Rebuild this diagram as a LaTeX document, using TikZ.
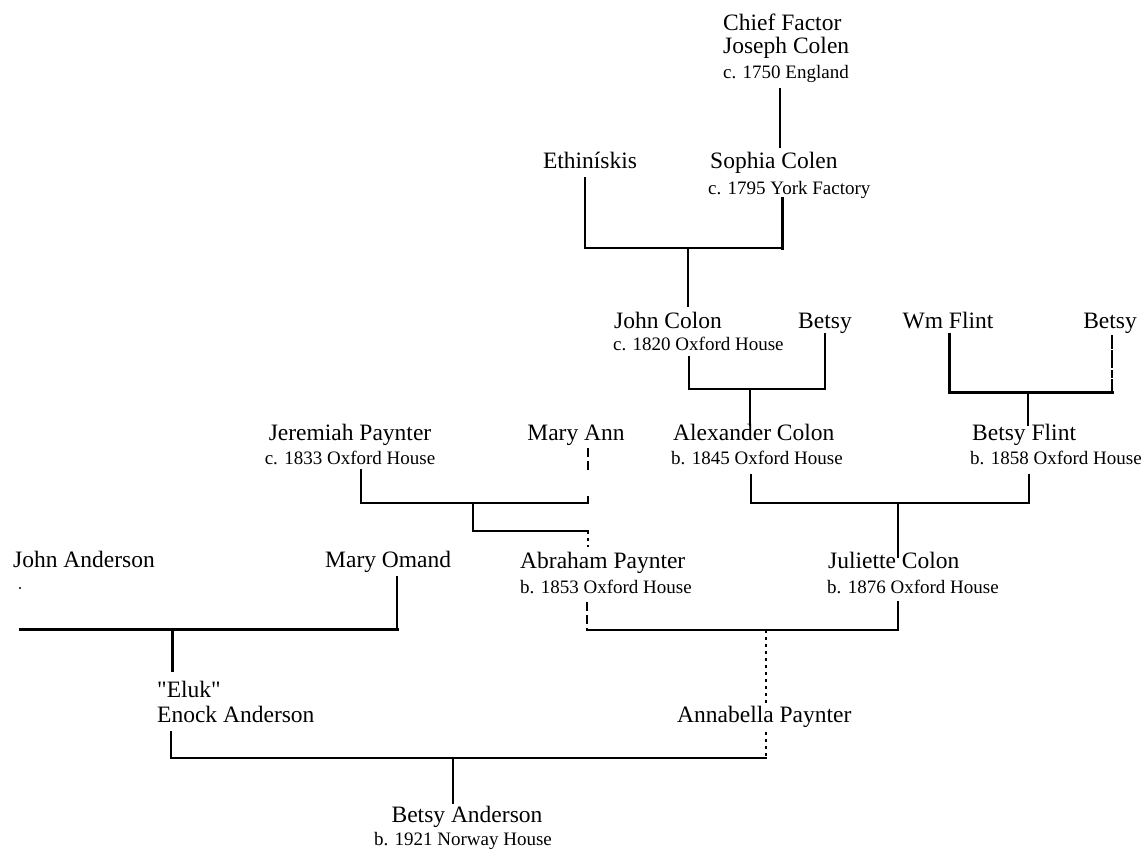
\documentclass[tikz,border=0pt]{standalone}
\usepackage{fontspec}
\setmainfont{Liberation Serif}[Ligatures=TeXOff]
\begin{document}
\begin{tikzpicture}[x=1pt,y=-1pt,
  nm/.style={font=\fontsize{23.5}{28}\selectfont, inner sep=0pt, anchor=base west},
  nmc/.style={nm, anchor=base},
  dt/.style={font=\fontsize{19}{23}\selectfont, inner sep=0pt, anchor=base west},
  link/.style={line width=1.6pt, line cap=rect},
  heavy/.style={line width=3pt, line cap=rect},
  faint/.style={line width=1.6pt, dash pattern=on 3pt off 4pt},
  broken/.style={line width=1.6pt, dash pattern=on 9pt off 4pt}]
\useasboundingbox (0,0) rectangle (1145,849);

% ---- people ----
\node[nm] (cfA) at (723,30) {Chief Factor};
\node[nm] (cfB) at (723,53) {Joseph Colen};
\node[dt] (cfC) at (723,78) {c. 1750 England};

\node[nmc] (eth) at (590,168) {Ethinískis};
\node[nm] (sop) at (710,168) {Sophia Colen};
\node[dt] (sopd) at (708,194) {c. 1795 York Factory};

\node[nm] (jcol) at (614,328) {John Colon};
\node[dt] (jcold) at (613,350) {c. 1820 Oxford House};
\node[nmc] (bet1) at (825,328) {Betsy};
\node[nmc] (wmf) at (948,328) {Wm Flint};
\node[nmc] (bet2) at (1110,328) {Betsy};

\node[nmc] (jer) at (350,440) {Jeremiah Paynter};
\node[dt, anchor=base] (jerd) at (350,464) {c. 1833 Oxford House};
\node[nmc] (mann) at (576,440) {Mary Ann};
\node[nm] (alx) at (673,440) {Alexander Colon};
\node[dt] (alxd) at (671,464) {b. 1845 Oxford House};
\node[nm] (bfl) at (972,440) {Betsy Flint};
\node[dt] (bfld) at (970,464) {b. 1858 Oxford House};

\node[nm] (jand) at (13,567) {John Anderson};
\node[nm] (mom) at (325,567) {Mary Omand};
\node[nm] (abr) at (520,568) {Abraham Paynter};
\node[dt] (abrd) at (520,593) {b. 1853 Oxford House};
\node[nm] (jul) at (828,568) {Juliette Colon};
\node[dt] (juld) at (827,593) {b. 1876 Oxford House};

\node[nm] (eluk) at (157,697) {"Eluk"};
\node[nm] (enk) at (157,722) {Enock Anderson};
\node[nm] (ann) at (677,722) {Annabella Paynter};

\node[nmc] (band) at (467,822) {Betsy Anderson};
\node[dt, anchor=base] (bandd) at (463,845) {b. 1921 Norway House};

% ---- junction points ----
\coordinate (m1) at (688,248);
\coordinate (m2) at (750,389);
\coordinate (m3) at (1028,392);
\coordinate (m4) at (473,503);
\coordinate (m5) at (898,503);
\coordinate (m6) at (766,630);
\coordinate (m7) at (172,629);
\coordinate (m8) at (453,758);

% ---- connectors ----
% Joseph Colen to Sophia Colen
\draw[link] (cfC.south -| 780,0) ++(0,6) -- (780,147);

% Ethinískis + Sophia Colen -> John Colon
\draw[link] (eth.south) ++(-5,9) -- (585,248) -- (782,248);
\draw[heavy] (782,248) -- (sopd.south -| 782,0) ++(0,6);
\draw[link] (m1) -- (688,306);

% John Colon + Betsy -> Alexander Colon
\draw[link] (689,357) -- (689,389) -- (825,389) -- (825,334);
\draw[link] (m2) -- (750,425);

% Wm Flint + Betsy -> Betsy Flint
\draw[heavy] (949,334) -- (949,392) -- (1112,392);
\draw[link, dash pattern=on 12pt off 3pt on 6pt off 4pt on 16pt off 3pt] (1112,392) -- (1112,334);
\draw[link] (m3) -- (1028,425);

% Jeremiah Paynter + Mary Ann -> Abraham Paynter
\draw[link] (361,470) -- (361,503) -- (588,503);
\draw[broken] (588,448) -- (588,470);
\draw[link] (588,503) -- (588,497);
\draw[link] (m4) -- (473,531) -- (588,531);
\draw[faint] (588,531) -- (588,547);

% Alexander Colon + Betsy Flint -> Juliette Colon
\draw[link] (751,475) -- (751,503) -- (1029,503) -- (1029,475);
\draw[link] (m5) -- (898,557);

% John Anderson + Mary Omand -> Enock Anderson
\fill (20,588) circle (1.2pt);
\draw[heavy] (20,629) -- (397,629);
\draw[link] (397,629) -- (397,577);
\draw[heavy] (m7) -- (172,670);

% Abraham Paynter + Juliette Colon -> Annabella Paynter
\draw[broken] (587,602) -- (587,630);
\draw[link] (587,630) -- (898,630) -- (898,602);
\draw[faint] (m6) -- (766,703);
\draw[faint] (766,732) -- (766,758);

% Enock Anderson + Annabella Paynter -> Betsy Anderson
\draw[link] (171,732) -- (171,758) -- (766,758);
\draw[link] (m8) -- (453,803);
\end{tikzpicture}
\end{document}
